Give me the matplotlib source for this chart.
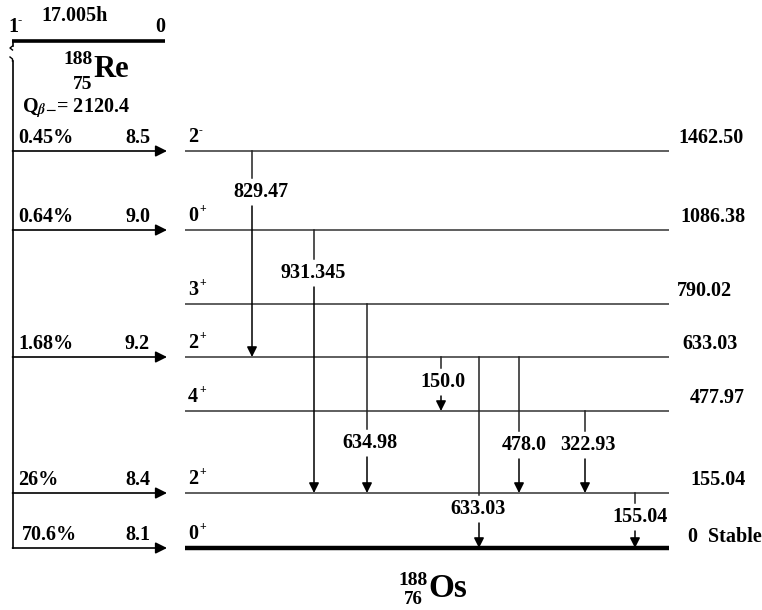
import matplotlib.pyplot as plt

plt.rcParams['font.family'] = ['Liberation Serif', 'DejaVu Serif']
plt.rcParams['font.weight'] = 'bold'
plt.rcParams['mathtext.fontset'] = 'stix'

# 188Os levels (keV), spin and parity
level_energy = ["1462.50", "1086.38", "790.02", "633.03", "477.97", "155.04", "0  Stable"]
level_spin = ["2", "0", "3", "2", "4", "2", "0"]
level_parity = ["-", "+", "+", "+", "+", "+", "+"]

# beta- feeding from 188Re
beta_level = [0, 1, 3, 5, 6]
beta_intensity = ["0.45%", "0.64%", "1.68%", "26%", "70.6%"]
beta_logft = ["8.5", "9.0", "9.2", "8.4", "8.1"]

# gamma transitions
gamma_energy = ["829.47", "931.345", "634.98", "150.0", "633.03", "478.0", "322.93", "155.04"]
gamma_from = [0, 1, 2, 3, 3, 3, 4, 5]
gamma_to = [3, 5, 5, 4, 6, 5, 5, 6]

parent_halflife = "17.005h"
q_value = "2120.4"

# schematic layout (pixel-like units)
level_y = [151, 230, 304, 357, 411, 493, 548]
energy_x = [678, 680, 677, 682, 690, 690, 688]
gamma_x = [252, 314, 367, 441, 479, 519, 585, 635]
gamma_lx = [261, 313, 370, 443, 478, 524, 588, 640]
gamma_ly = [192, 273, 443, 382, 509, 445, 445, 517]

fig = plt.figure(figsize=(7.62, 6.10), dpi=100)
ax = fig.add_axes([0, 0, 1, 1])
ax.set_xlim(0, 762)
ax.set_ylim(610, 0)
ax.axis('off')

fs = 14.5

# parent level
ax.plot([12, 165], [41, 41], color='black', lw=2.6, solid_capstyle='butt')
ax.text(8, 32, "1", fontsize=fs, ha='left', va='baseline')
ax.text(17, 23, "-", fontsize=9, ha='left', va='baseline')
ax.text(160, 32, "0", fontsize=fs, ha='center', va='baseline')
ax.text(75, 21, parent_halflife, fontsize=fs, ha='center', va='baseline')
ax.text(63, 64, "188", fontsize=14, ha='left', va='baseline')
ax.text(93, 77, "Re", fontsize=22, ha='left', va='baseline')
ax.text(73, 89, "75", fontsize=14, ha='left', va='baseline')
ax.text(22, 112, r"Q$_{\beta\mathbf{-}}$= " + q_value, fontsize=fs, ha='left', va='baseline')

# broken vertical line of parent
ax.plot([12.5, 12.5], [41, 46], color='black', lw=1.2)
ax.plot([12.5, 10, 12.5], [46, 48, 50], color='black', lw=1.0)
ax.plot([10, 12.5, 12.5], [57, 59, 61], color='black', lw=1.0)
ax.plot([12.5, 12.5], [61, level_y[-1]], color='black', lw=1.2)

# daughter levels
for i, y in enumerate(level_y):
    lw = 3.2 if i == len(level_y) - 1 else 1.1
    col = 'black' if i == len(level_y) - 1 else '#333333'
    ax.plot([185, 669], [y, y], color=col, lw=lw, solid_capstyle='butt')
    ax.text(188, y - 4, level_spin[i], fontsize=fs, ha='left', va='bottom')
    ax.text(199, y - 15, level_parity[i], fontsize=8.5, ha='left', va='bottom')
    off = 1 if i == len(level_y) - 1 else 3
    ax.text(energy_x[i], y - off, level_energy[i], fontsize=fs, ha='left', va='bottom')

# beta branches
for k, li in enumerate(beta_level):
    y = level_y[li]
    ax.annotate("", xy=(167, y), xytext=(12.5, y),
                arrowprops=dict(arrowstyle='-|>', color='black', lw=1.2,
                                mutation_scale=17, shrinkA=0, shrinkB=0))
    px = 22 if k == len(beta_level) - 1 else 18
    ax.text(px, y - 3, beta_intensity[k], fontsize=fs, ha='left', va='bottom')
    ax.text(150, y - 3, beta_logft[k], fontsize=fs, ha='right', va='bottom')

# gamma transitions
gap = 14
for g in range(len(gamma_energy)):
    x = gamma_x[g]
    y0 = level_y[gamma_from[g]]
    y1 = level_y[gamma_to[g]]
    ly = gamma_ly[g]
    ax.plot([x, x], [y0, ly - gap], color='#222222', lw=1.1)
    ax.annotate("", xy=(x, y1), xytext=(x, ly + gap),
                arrowprops=dict(arrowstyle='-|>', color='black', lw=1.1,
                                mutation_scale=15, shrinkA=0, shrinkB=0))
    ax.text(gamma_lx[g], ly, gamma_energy[g], fontsize=fs, ha='center', va='center')

# daughter nucleus label
ax.text(398, 585, "188", fontsize=14, ha='left', va='baseline')
ax.text(428, 597, "Os", fontsize=24, ha='left', va='baseline')
ax.text(404, 604, "76", fontsize=13.5, ha='left', va='baseline')

fig.savefig("out.png", dpi=100)
